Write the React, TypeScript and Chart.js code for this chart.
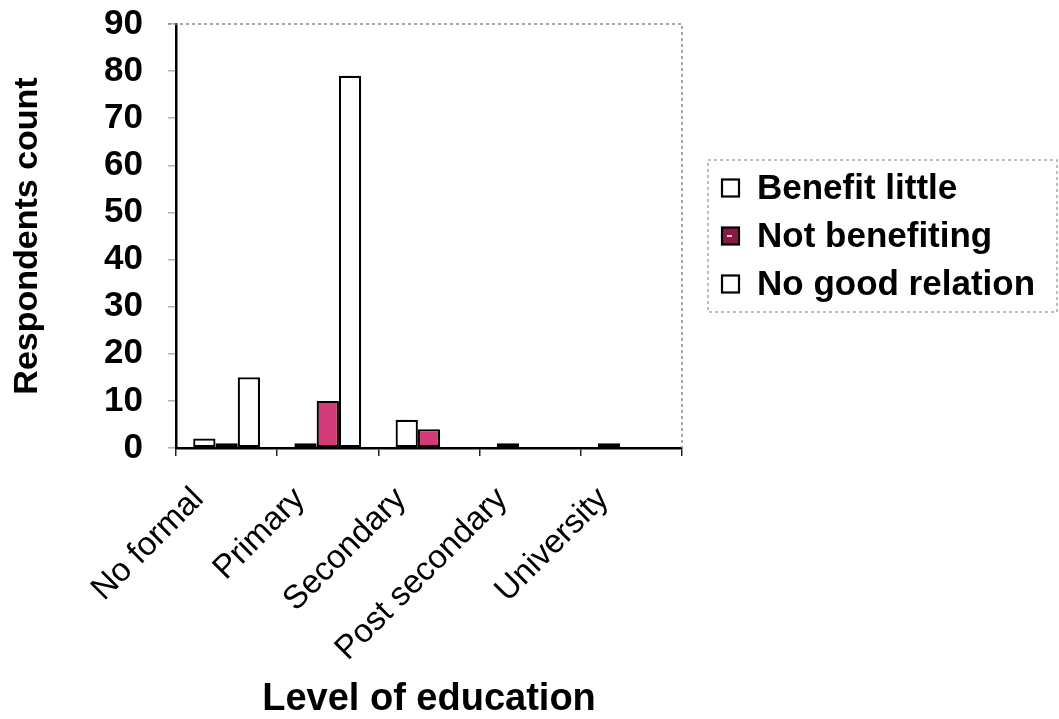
import React, { useEffect, useRef } from "react";
import { Chart, registerables } from "chart.js";

Chart.register(...registerables);

// Respondents by level of education and reported relation
const categories = ["No formal", "Primary", "Secondary", "Post secondary", "University"];
const seriesNames = ["Benefit little", "Not benefiting", "No good relation"];
const benefitLittle = [2, 1, 6, 1, 1];
const notBenefiting = [1, 10, 4, 0, 0];
const noGoodRelation = [15, 79, 0, 0, 0];

const FONT = "'Liberation Sans', Arial, Helvetica, sans-serif";
const barFills = ["#ffffff", "#d23a78", "#ffffff"];
const legendFills = ["#ffffff", "#8c1846", "#ffffff"];

// Dotted frame along the top and right of the plot area
const framePlugin = {
  id: "dottedFrame",
  afterDraw(chart: any) {
    const { ctx, chartArea } = chart;
    ctx.save();
    ctx.strokeStyle = "#8a8a8a";
    ctx.lineWidth = 1.5;
    ctx.setLineDash([3, 3]);
    ctx.beginPath();
    ctx.moveTo(chartArea.left - 8, chartArea.top);
    ctx.lineTo(chartArea.right, chartArea.top);
    ctx.lineTo(chartArea.right, chartArea.bottom);
    ctx.stroke();
    ctx.restore();
  },
};

// Legend to the right of the plot, one row per dataset, inside a dotted box
const sideLegendPlugin = {
  id: "sideLegend",
  afterDraw(chart: any) {
    const { ctx, chartArea } = chart;
    const datasets = chart.data.datasets;
    const cy = (chartArea.top + chartArea.bottom) / 2;
    const x0 = chartArea.right + 40;
    const rowGap = 48;
    const box = 17;
    ctx.save();
    ctx.strokeStyle = "#a8a8a8";
    ctx.lineWidth = 1.5;
    ctx.setLineDash([3, 3]);
    ctx.strokeRect(x0 - 14, cy - 76, chart.width - 2 - (x0 - 14), 152);
    ctx.setLineDash([]);
    ctx.font = `bold 35px ${FONT}`;
    ctx.textBaseline = "middle";
    ctx.textAlign = "left";
    datasets.forEach((ds: any, i: number) => {
      const y = cy + (i - (datasets.length - 1) / 2) * rowGap;
      ctx.fillStyle = legendFills[i];
      ctx.fillRect(x0, y - box / 2, box, box);
      if (i === 1) {
        ctx.strokeStyle = "#f4c8d8";
        ctx.lineWidth = 2;
        ctx.beginPath();
        ctx.moveTo(x0 + 5, y);
        ctx.lineTo(x0 + 10, y);
        ctx.stroke();
      }
      ctx.strokeStyle = "#000";
      ctx.lineWidth = 2.2;
      ctx.strokeRect(x0, y - box / 2, box, box);
      ctx.fillStyle = "#000";
      ctx.fillText(ds.label, x0 + box + 18, y + 1);
    });
    ctx.restore();
  },
};

export default function App() {
  const canvasRef = useRef<HTMLCanvasElement | null>(null);

  useEffect(() => {
    const canvas = canvasRef.current;
    if (!canvas) return;
    const values = [benefitLittle, notBenefiting, noGoodRelation];
    const chart = new Chart(canvas, {
      type: "bar",
      data: {
        labels: categories,
        datasets: seriesNames.map((name, i) => ({
          label: name,
          data: values[i],
          backgroundColor: barFills[i],
          borderColor: "#000000",
          borderWidth: 2.2,
          borderSkipped: false,
          categoryPercentage: 0.66,
          barPercentage: 1,
        })),
      },
      options: {
        responsive: false,
        animation: false,
        devicePixelRatio: 1,
        layout: { padding: { top: 24, left: 0, right: 377, bottom: 0 } },
        plugins: {
          tooltip: { enabled: false },
          legend: { display: false },
        },
        scales: {
          x: {
            offset: true,
            grid: {
              offset: true,
              drawOnChartArea: false,
              drawTicks: true,
              tickLength: 8,
              color: "#222",
              lineWidth: 1.5,
            },
            border: { display: true, color: "#000", width: 2.5 },
            ticks: {
              color: "#000",
              font: { family: FONT, size: 33 },
              maxRotation: 45,
              minRotation: 45,
              padding: 24,
              labelOffset: -28,
              autoSkip: false,
            },
            title: {
              display: true,
              text: "Level of education",
              color: "#000",
              font: { family: FONT, size: 38, weight: "bold" },
              padding: { top: 0, bottom: -3 },
            },
            afterFit: (scale: any) => {
              scale.height = 271;
            },
          },
          y: {
            min: 0,
            max: 90,
            grid: {
              drawOnChartArea: false,
              drawTicks: true,
              tickLength: 8,
              color: "#b0b0b0",
              lineWidth: 1.5,
            },
            border: { display: true, color: "#000", width: 2.5 },
            ticks: {
              stepSize: 10,
              autoSkip: false,
              color: "#000",
              font: { family: FONT, size: 35, weight: "bold" },
              padding: 25,
            },
            title: {
              display: true,
              text: "Respondents count",
              color: "#000",
              font: { family: FONT, size: 34, weight: "bold" },
              padding: { top: 7, bottom: 0 },
            },
            afterFit: (scale: any) => {
              scale.width = 176;
              scale.paddingTop = 0;
              scale.paddingBottom = 0;
            },
          },
        },
      },
      plugins: [framePlugin, sideLegendPlugin],
    });
    return () => chart.destroy();
  }, []);

  return (
    <div style={{ position: "absolute", left: 0, top: 0, width: 1059, height: 719, background: "#fff" }}>
      <canvas ref={canvasRef} width={1059} height={719} style={{ display: "block", width: 1059, height: 719 }} />
    </div>
  );
}
